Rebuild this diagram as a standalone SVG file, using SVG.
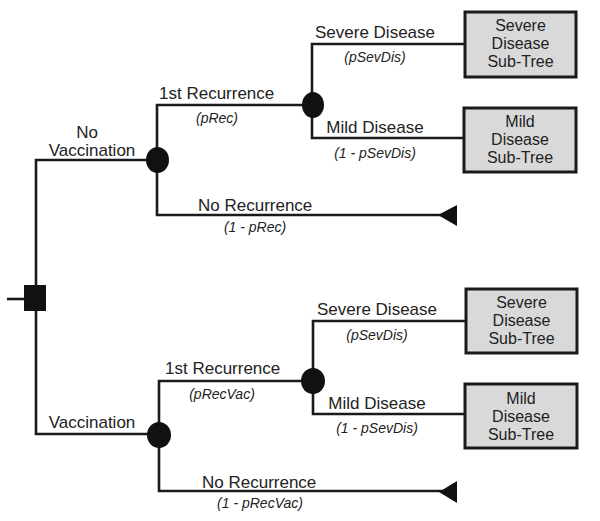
<svg xmlns="http://www.w3.org/2000/svg" width="600" height="521" viewBox="0 0 600 521">
<style>
.ln{fill:none;stroke:#1a1a1a;stroke-width:2.6}
.ch{fill:#111}
.box{fill:#d9d9d9;stroke:#1a1a1a;stroke-width:3}
text{font-family:"Liberation Sans",Arial,sans-serif;font-size:17px;fill:#222}
.p{font-size:14px;font-style:italic}
.m{text-anchor:middle}
.b{font-size:16px;text-anchor:middle}
</style>
<rect width="600" height="521" fill="#fff"/>
<g id="connectors">
<path class="ln" d="M7 299H24"/>
<path class="ln" d="M36 285V160H157"/>
<path class="ln" d="M36 311V434H159"/>
<path class="ln" d="M157 160V105H313"/>
<path class="ln" d="M157 160V215H445"/>
<path class="ln" d="M312 105V44H465"/>
<path class="ln" d="M312 105V138H464"/>
<path class="ln" d="M159 434V381H313"/>
<path class="ln" d="M159 434V491H445"/>
<path class="ln" d="M313 381V321H466"/>
<path class="ln" d="M313 381V414H465"/>
</g>
<g id="decision">
<rect x="24" y="285" width="22" height="26" fill="#111"/>
</g>
<g id="chance-novac">
<ellipse class="ch" cx="157.5" cy="160" rx="11.5" ry="13"/>
<text x="87" y="138" class="m">No</text>
<text x="92" y="156" class="m">Vaccination</text>
</g>
<g id="chance-rec1">
<ellipse class="ch" cx="313" cy="105" rx="11" ry="13"/>
<text x="159" y="99">1st Recurrence</text>
<text x="217" y="123" class="p m">(pRec)</text>
</g>
<g id="term-norec1">
<path class="ch" d="M438 215L457 205V226Z"/>
<text x="198" y="211">No Recurrence</text>
<text x="255" y="232" class="p m">(1 - pRec)</text>
</g>
<g id="box-severe1">
<rect class="box" x="465" y="12" width="111" height="65"/>
<text x="315" y="38">Severe Disease</text>
<text x="375" y="62" class="p m">(pSevDis)</text>
<text x="520.5" y="31" class="b">Severe</text>
<text x="520.5" y="49" class="b">Disease</text>
<text x="520.5" y="67" class="b">Sub-Tree</text>
</g>
<g id="box-mild1">
<rect class="box" x="464" y="108" width="112" height="64"/>
<text x="375" y="133" class="m">Mild Disease</text>
<text x="375" y="158" class="p m">(1 - pSevDis)</text>
<text x="520" y="127" class="b">Mild</text>
<text x="520" y="145" class="b">Disease</text>
<text x="520" y="163" class="b">Sub-Tree</text>
</g>
<g id="chance-vac">
<ellipse class="ch" cx="159" cy="435" rx="12" ry="13"/>
<text x="92" y="428" class="m">Vaccination</text>
</g>
<g id="chance-rec2">
<ellipse class="ch" cx="313" cy="381" rx="12" ry="13"/>
<text x="165" y="374">1st Recurrence</text>
<text x="222" y="399" class="p m">(pRecVac)</text>
</g>
<g id="term-norec2">
<path class="ch" d="M439 492L457 481V503Z"/>
<text x="202" y="488">No Recurrence</text>
<text x="260" y="508" class="p m">(1 - pRecVac)</text>
</g>
<g id="box-severe2">
<rect class="box" x="466" y="289" width="111" height="64"/>
<text x="317" y="315">Severe Disease</text>
<text x="377" y="340" class="p m">(pSevDis)</text>
<text x="521.5" y="308" class="b">Severe</text>
<text x="521.5" y="326" class="b">Disease</text>
<text x="521.5" y="344" class="b">Sub-Tree</text>
</g>
<g id="box-mild2">
<rect class="box" x="465" y="384" width="112" height="64"/>
<text x="377" y="409" class="m">Mild Disease</text>
<text x="377" y="433" class="p m">(1 - pSevDis)</text>
<text x="521" y="404" class="b">Mild</text>
<text x="521" y="422" class="b">Disease</text>
<text x="521" y="440" class="b">Sub-Tree</text>
</g>
</svg>
